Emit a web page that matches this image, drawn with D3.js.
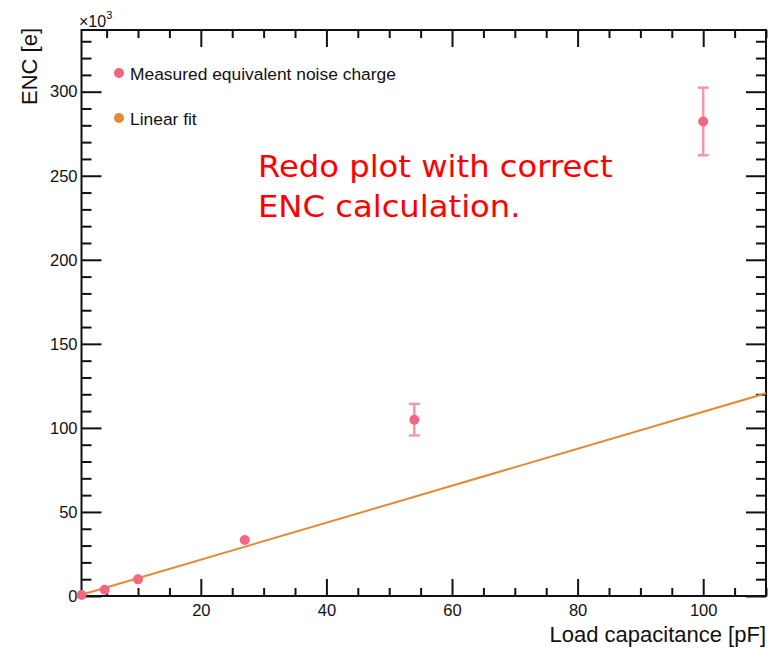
<!DOCTYPE html>
<html>
<head>
<meta charset="utf-8">
<script src="https://cdn.jsdelivr.net/npm/d3@7"></script>
<style>
  html, body { margin: 0; padding: 0; background: #fff; }
  svg { display: block; }
</style>
</head>
<body>
<svg id="chart" width="769" height="653"></svg>
<script>
// Load capacitance (pF) and measured ENC (thousands of electrons)
const capacitance = [1, 4.7, 10, 27, 54, 100];
const encValues   = [0.6, 3.7, 9.9, 33.3, 104.9, 282.3];
const encErrors   = [0, 0, 0, 0, 9.4, 20.1];

// Linear fit parameters: ENC = slope * C + offset (thousands of e)
const fitSlope  = 1.1;
const fitOffset = -0.4;
const fitRange  = [1, 110];

const xTicks = [20, 40, 60, 80, 100];
const yTicks = [0, 50, 100, 150, 200, 250, 300];

const legendLabels = ["Measured equivalent noise charge", "Linear fit"];
const noteLines = ["Redo plot with correct", "ENC calculation."];

const pointColor = "#f2677f";
const barColor = "#f598aa";
const fitColor = "#e28b34";
const sans = "Liberation Sans, Arial, Helvetica, sans-serif";

const svg = d3.select("#chart");
const frame = { left: 81.5, right: 766, top: 30, bottom: 596 };

const x = d3.scaleLinear().domain([1, 110]).range([frame.left, frame.right]);
const y = d3.scaleLinear().domain([0, 336.7]).range([frame.bottom, frame.top]);

// Axes: major + minor ticks on all four sides, drawn inward
function tickSet(scale, step) {
  const [a, b] = scale.domain();
  return d3.range(Math.ceil(a / step) * step, b + 1e-9, step);
}
const axisColor = "#111";
const g = svg.append("g");

const xMinor = tickSet(x, 5).filter(v => v % 20 !== 0);
const yMinor = tickSet(y, 10).filter(v => v % 50 !== 0);

// bottom & top
g.append("g").attr("transform", `translate(0,${frame.bottom})`)
  .call(d3.axisBottom(x).tickValues(xMinor).tickSize(-8).tickFormat(""));
g.append("g").attr("transform", `translate(0,${frame.bottom})`)
  .call(d3.axisBottom(x).tickValues(xTicks).tickSize(-17).tickPadding(8).tickFormat(d3.format("d")));
g.append("g").attr("transform", `translate(0,${frame.top})`)
  .call(d3.axisTop(x).tickValues(xMinor).tickSize(-8).tickFormat(""));
g.append("g").attr("transform", `translate(0,${frame.top})`)
  .call(d3.axisTop(x).tickValues(xTicks).tickSize(-17).tickFormat(""));
// left & right
g.append("g").attr("transform", `translate(${frame.left},0)`)
  .call(d3.axisLeft(y).tickValues(yMinor).tickSize(-10).tickFormat(""));
g.append("g").attr("transform", `translate(${frame.left},0)`)
  .call(d3.axisLeft(y).tickValues(yTicks).tickSize(-20).tickPadding(4).tickFormat(d3.format("d")));
g.append("g").attr("transform", `translate(${frame.right},0)`)
  .call(d3.axisRight(y).tickValues(yMinor).tickSize(-10).tickFormat(""));
g.append("g").attr("transform", `translate(${frame.right},0)`)
  .call(d3.axisRight(y).tickValues(yTicks).tickSize(-20).tickFormat(""));

g.selectAll(".domain").remove();
g.selectAll(".tick line").attr("stroke", axisColor).attr("stroke-width", 2);
g.selectAll(".tick text").attr("font-size", 16.5).attr("fill", "#111")
  .attr("font-family", sans);

// frame
svg.append("rect")
  .attr("x", frame.left).attr("y", frame.top)
  .attr("width", frame.right - frame.left).attr("height", frame.bottom - frame.top)
  .attr("fill", "none").attr("stroke", axisColor).attr("stroke-width", 2);

// exponent label
const expo = svg.append("text").attr("x", 79).attr("y", 27)
  .attr("font-family", sans).attr("font-size", 16).attr("fill", "#111");
expo.append("tspan").text("×10");
expo.append("tspan").attr("dy", -8).attr("font-size", 11).text("3");

// axis titles
svg.append("text")
  .attr("transform", `translate(37,${frame.top - 2}) rotate(-90)`)
  .attr("text-anchor", "end").attr("font-family", sans).attr("font-size", 22).attr("fill", "#111")
  .text("ENC [e]");
svg.append("text")
  .attr("x", frame.right).attr("y", 642)
  .attr("text-anchor", "end").attr("font-family", sans).attr("font-size", 22).attr("fill", "#111")
  .text("Load capacitance [pF]");

// fit line
const fitData = fitRange.map(c => ({ c, v: fitSlope * c + fitOffset }));
svg.append("path")
  .datum(fitData)
  .attr("d", d3.line().x(d => x(d.c)).y(d => y(d.v)))
  .attr("stroke", fitColor).attr("stroke-width", 2).attr("fill", "none");

// data points with error bars
const pts = capacitance.map((c, i) => ({ c, v: encValues[i], e: encErrors[i] }));
const bars = svg.append("g").attr("stroke", barColor).attr("stroke-width", 2.5);
pts.filter(d => d.e > 0).forEach(d => {
  bars.append("line").attr("x1", x(d.c)).attr("x2", x(d.c))
    .attr("y1", y(d.v - d.e)).attr("y2", y(d.v + d.e));
  [d.v - d.e, d.v + d.e].forEach(v => {
    bars.append("line").attr("x1", x(d.c) - 5.5).attr("x2", x(d.c) + 5.5)
      .attr("y1", y(v)).attr("y2", y(v));
  });
});
svg.append("g").selectAll("circle").data(pts).join("circle")
  .attr("cx", d => x(d.c)).attr("cy", d => y(d.v)).attr("r", 5)
  .attr("fill", pointColor);

// legend
const legend = svg.append("g");
[pointColor, fitColor].forEach((col, i) => {
  legend.append("circle").attr("cx", 119).attr("cy", 73 + i * 45).attr("r", 5).attr("fill", col);
  legend.append("text").attr("x", 130).attr("y", 80 + i * 45)
    .attr("font-family", sans).attr("font-size", 17.4).attr("fill", "#111")
    .text(legendLabels[i]);
});

// annotation, slightly widened horizontally
svg.append("g").attr("transform", "translate(258,0) scale(1.075,1)")
  .selectAll("text").data(noteLines).join("text")
  .attr("x", 0).attr("y", (d, i) => 177 + i * 40.5)
  .attr("font-family", "DejaVu Sans, sans-serif")
  .attr("font-size", 30).attr("fill", "#ff0000")
  .text(d => d);
</script>
</body>
</html>
